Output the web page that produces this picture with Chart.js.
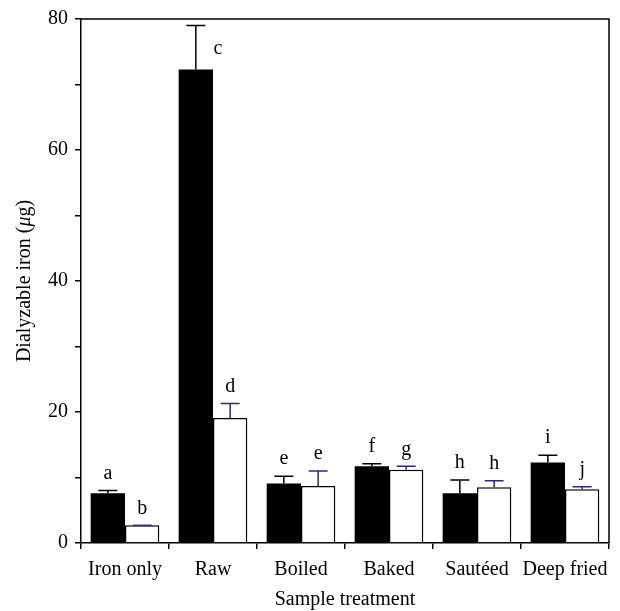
<!DOCTYPE html>
<html>
<head>
<meta charset="utf-8">
<script src="https://cdn.jsdelivr.net/npm/chart.js@4"></script>
<style>
  html, body { margin: 0; padding: 0; background: #fff; }
  #wrap { width: 620px; height: 611px; }
</style>
</head>
<body>
<div id="wrap"><canvas id="ironChart" width="620" height="611"></canvas></div>
<script>
// data
const categories = ['Iron only', 'Raw', 'Boiled', 'Baked', 'Sautéed', 'Deep fried'];
const darkValues = [7.6, 72.3, 9.1, 11.7, 7.6, 12.3];
const darkErrTop = [8.0, 79.0, 10.2, 12.1, 9.6, 13.4];
const lightValues = [2.7, 19.1, 8.7, 11.2, 8.5, 8.2];
const lightErrTop = [2.7, 21.3, 11.0, 11.7, 9.5, 8.6];
const darkLetters = ['a', 'c', 'e', 'f', 'h', 'i'];
const lightLetters = ['b', 'd', 'e', 'g', 'h', 'j'];
const yTicks = [0, 20, 40, 60, 80];

const serif = "'Liberation Serif', 'DejaVu Serif', serif";

// error bars, letters, frame and y title (italic mu)
const errorBarPlugin = {
  id: 'errorBars',
  afterDatasetsDraw(chart) {
    const ctx = chart.ctx;
    const y = chart.scales.y;
    const tops = [darkErrTop, lightErrTop];
    const letters = [darkLetters, lightLetters];
    const colors = ['#000000', '#2a2a78'];
    ctx.save();
    for (let d = 0; d < 2; d++) {
      const meta = chart.getDatasetMeta(d);
      meta.data.forEach(function(bar, i) {
        const yTop = y.getPixelForValue(tops[d][i]);
        ctx.strokeStyle = colors[d];
        ctx.lineWidth = 1.5;
        ctx.beginPath();
        ctx.moveTo(bar.x, bar.y);
        ctx.lineTo(bar.x, yTop);
        ctx.moveTo(bar.x - 9.5, yTop);
        ctx.lineTo(bar.x + 9.5, yTop);
        ctx.stroke();

        ctx.fillStyle = '#000';
        ctx.font = '20px ' + serif;
        ctx.textAlign = 'center';
        ctx.textBaseline = 'middle';
        const letter = letters[d][i];
        if (letter === 'c') {
          ctx.fillText(letter, bar.x + 22, yTop + 23);
        } else {
          ctx.fillText(letter, bar.x, yTop - 17);
        }
      });
    }
    // frame top and right
    const a = chart.chartArea;
    ctx.strokeStyle = '#000';
    ctx.lineWidth = 1.5;
    ctx.beginPath();
    ctx.moveTo(a.left, a.top);
    ctx.lineTo(a.right, a.top);
    ctx.lineTo(a.right, a.bottom);
    ctx.stroke();

    // y axis title with italic mu
    const parts = [['Dialyzable iron (', '20px ' + serif], ['μ', 'italic 20px ' + serif], ['g)', '20px ' + serif]];
    let total = 0;
    parts.forEach(function(p) { ctx.font = p[1]; total += ctx.measureText(p[0]).width; });
    ctx.translate(25, (a.top + a.bottom) / 2);
    ctx.rotate(-Math.PI / 2);
    ctx.textAlign = 'left';
    ctx.textBaseline = 'middle';
    ctx.fillStyle = '#000';
    let x = -total / 2;
    parts.forEach(function(p) {
      ctx.font = p[1];
      ctx.fillText(p[0], x, 0);
      x += ctx.measureText(p[0]).width;
    });
    ctx.restore();
  }
};

const ctx = document.getElementById('ironChart').getContext('2d');
const ironChart = new Chart(ctx, {
  type: 'bar',
  data: {
    labels: categories,
    datasets: [{
      label: 'dark',
      data: darkValues,
      backgroundColor: '#000000',
      borderWidth: 0,
      categoryPercentage: 0.78,
      barPercentage: 1.0
    }, {
      label: 'light',
      data: lightValues,
      backgroundColor: '#ffffff',
      borderColor: '#000000',
      borderWidth: 1.5,
      categoryPercentage: 0.78,
      barPercentage: 1.0
    }]
  },
  options: {
    responsive: false,
    animation: false,
    layout: { padding: { left: 0, right: 11, top: 13, bottom: 0 } },
    plugins: {
      legend: { display: false },
      tooltip: { enabled: false }
    },
    scales: {
      x: {
        grid: { display: true, drawOnChartArea: false, drawTicks: true, tickLength: 6, color: '#000', lineWidth: 1.5 },
        border: { display: true, color: '#000', width: 1.5 },
        ticks: { color: '#000', padding: 9, font: { family: serif, size: 20 }, maxRotation: 0, autoSkip: false },
        title: { display: true, text: 'Sample treatment', color: '#000', font: { family: serif, size: 20, lineHeight: 1.0 }, padding: { top: 5, bottom: 1 } },
        afterFit(scale) { scale.height = 68; }
      },
      y: {
        min: 0,
        max: 80,
        grid: { display: true, drawOnChartArea: false, drawTicks: true, tickLength: 6, color: '#000', lineWidth: 1.5 },
        border: { display: true, color: '#000', width: 1.5 },
        ticks: {
          stepSize: 10,
          color: '#000',
          padding: 7,
          font: { family: serif, size: 20 },
          callback: function(v) { return yTicks.includes(v) ? String(v) : ''; }
        },
        title: { display: false },
        afterFit(scale) { scale.width = 81; }
      }
    }
  },
  plugins: [errorBarPlugin]
});
</script>
</body>
</html>
